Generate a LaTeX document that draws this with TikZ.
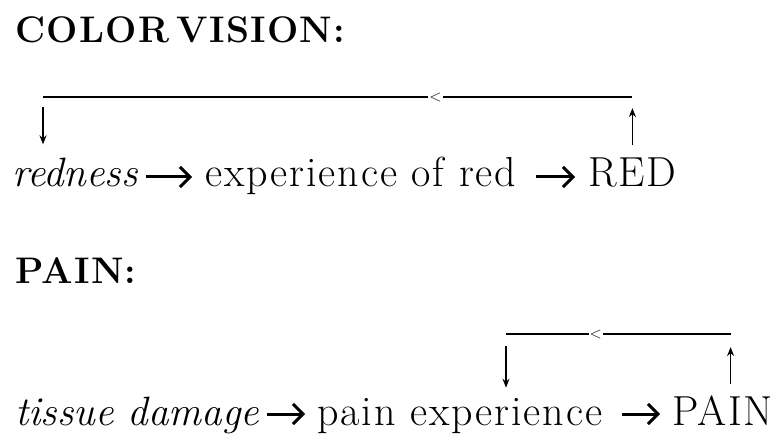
\documentclass[tikz,border=0pt]{standalone}
\usepackage{fontspec}
\newfontfamily\termfont[LetterSpace=4.5]{Latin Modern Roman}
\newfontfamily\headfont[LetterSpace=3.5, WordSpace=0.5]{Latin Modern Roman}
\usetikzlibrary{arrows.meta, positioning}

\begin{document}
\begin{tikzpicture}[
    x=1pt, y=1pt,
    heading/.style={anchor=base west, inner sep=0pt, font=\headfont\fontsize{37}{44}\selectfont\bfseries},
    term/.style={anchor=base west, inner sep=0pt, font=\termfont\fontsize{42}{48}\selectfont},
    cause/.style={term, font=\fontsize{41}{48}\selectfont\itshape},
    flow/.style={-{Straight Barb[length=10pt, width=20pt]}, line width=3pt},
    feedback/.style={-{Stealth[length=9pt, width=7pt]}, line width=1.4pt},
    backline/.style={line width=1.6pt},
    dirmark/.style={fill=white, inner sep=1pt, font=\fontsize{16}{16}\selectfont}
  ]
  \useasboundingbox (0,0) rectangle (780,440);

  % Color vision
  \node[heading] (colorhead) at (15,397) {COLOR VISION:};
  \node[cause] (redness) at (12,253) {redness};
  \node[term] (expred) at (205,253) {experience of red};
  \node[term] (red) at (588,253) {RED};
  \coordinate (redup) at ([yshift=61pt]red.north);
  \coordinate (rednessdown) at ([xshift=31pt]redness.north west |- redup);

  \draw[flow] ([xshift=8pt, yshift=10pt]redness.base east) -- ([xshift=-13pt, yshift=10pt]expred.base west);
  \draw[flow] ([xshift=20pt, yshift=10pt]expred.base east) -- ([xshift=-13pt, yshift=10pt]red.base west);
  \draw[feedback] ([yshift=13pt]red.north) -- ([yshift=-11pt]redup);
  \draw[backline] (redup) -- node[dirmark, pos=0.334] {<} (rednessdown);
  \draw[feedback] ([yshift=-10pt]rednessdown) -- ([xshift=31pt, yshift=14pt]redness.north west);

  % Pain
  \node[heading] (painhead) at (15,157) {PAIN:};
  \node[cause] (damage) at (15,15) {tissue damage};
  \node[term] (painexp) at (317,15) {pain experience};
  \node[term] (pain) at (672,15) {PAIN};
  \coordinate (painup) at ([xshift=8pt, yshift=61pt]pain.north);
  \coordinate (expdown) at ([xshift=189pt]painexp.north west |- painup);

  \draw[flow] ([xshift=8pt, yshift=11pt]damage.base east) -- ([xshift=-12pt, yshift=11pt]painexp.base west);
  \draw[flow] ([xshift=20pt, yshift=11pt]painexp.base east) -- ([xshift=-12pt, yshift=11pt]pain.base west);
  \draw[feedback] ([xshift=8pt, yshift=11pt]pain.north) -- ([yshift=-13pt]painup);
  \draw[backline] (painup) -- node[dirmark, pos=0.6] {<} (expdown);
  \draw[feedback] ([yshift=-12pt]expdown) -- ([xshift=189pt, yshift=10pt]painexp.north west);
\end{tikzpicture}
\end{document}
